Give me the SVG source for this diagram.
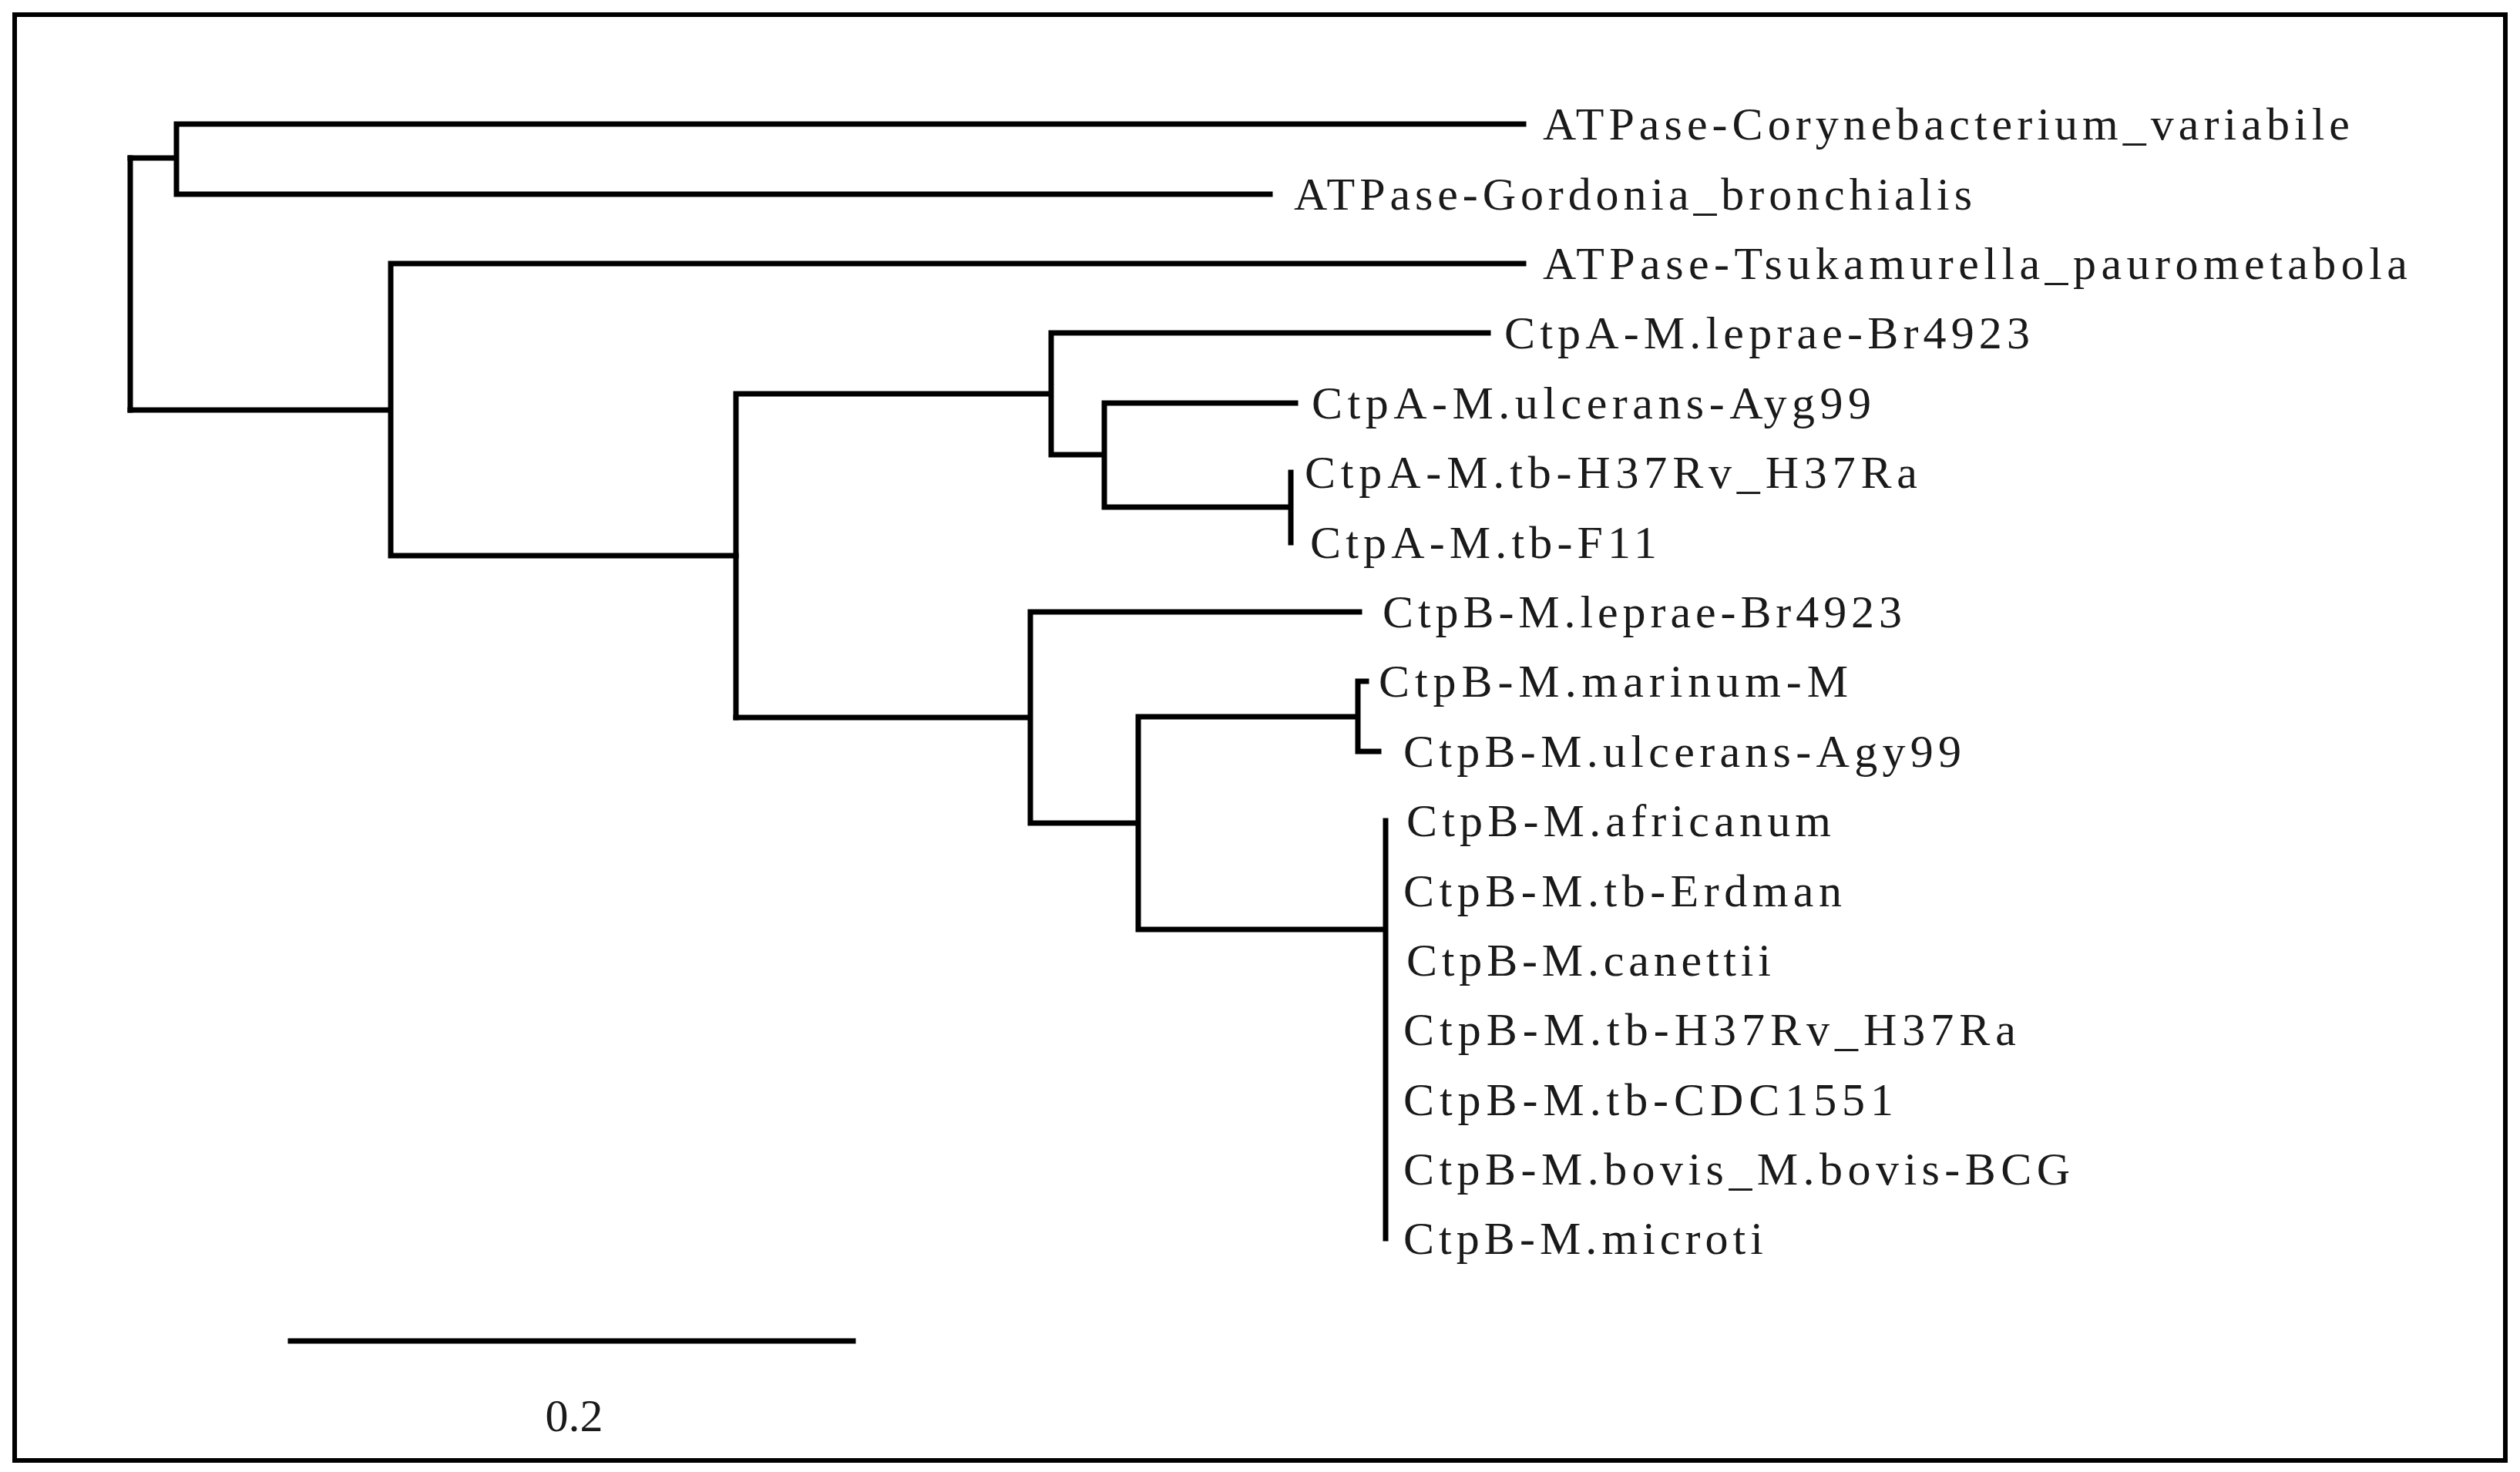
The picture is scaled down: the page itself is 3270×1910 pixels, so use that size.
<svg xmlns="http://www.w3.org/2000/svg" width="3270" height="1910" viewBox="0 0 3270 1910">
<style>
.e{stroke:#000;stroke-width:7;fill:none;stroke-linecap:square}
text{font-family:"Liberation Serif","DejaVu Serif",serif;font-size:60px;fill:#1a1a1a}
</style>
<rect x="0" y="0" width="3270" height="1910" fill="#fff"/>
<rect x="19" y="19" width="3232" height="1876" fill="none" stroke="#000" stroke-width="6"/>
<g id="connectors">
<path class="e" d="M169,205V532"/>
<path class="e" d="M169,205H229M229,161V252M229,161H1977M229,252H1648"/>
<path class="e" d="M169,532H507M507,342V721M507,342H1977M507,721H955"/>
<path class="e" d="M955,511V931M955,511H1364M1364,432V590M1364,432H1931M1364,590H1433M1433,523V658M1433,523H1681M1433,658H1675M1675,613V704"/>
<path class="e" d="M955,931H1337M1337,794V1068M1337,794H1764M1337,1068H1477M1477,930V1206M1477,930H1762M1762,884V975M1762,884H1773M1762,975H1789M1477,1206H1798M1798,1065V1607"/>
<path class="e" d="M377,1740H1107"/>
</g>
<g id="n1"><text x="2002" y="181" textLength="1047">ATPase-Corynebacterium_variabile</text></g>
<g id="n2"><text x="1679" y="272" textLength="880">ATPase-Gordonia_bronchialis</text></g>
<g id="n3"><text x="2002" y="362" textLength="1122">ATPase-Tsukamurella_paurometabola</text></g>
<g id="n4"><text x="1952" y="452" textLength="682">CtpA-M.leprae-Br4923</text></g>
<g id="n5"><text x="1702" y="543" textLength="726">CtpA-M.ulcerans-Ayg99</text></g>
<g id="n6"><text x="1693" y="633" textLength="795">CtpA-M.tb-H37Rv_H37Ra</text></g>
<g id="n7"><text x="1700" y="724" textLength="450">CtpA-M.tb-F11</text></g>
<g id="n8"><text x="1794" y="814" textLength="674">CtpB-M.leprae-Br4923</text></g>
<g id="n9"><text x="1789" y="904" textLength="609">CtpB-M.marinum-M</text></g>
<g id="n10"><text x="1821" y="995" textLength="724">CtpB-M.ulcerans-Agy99</text></g>
<g id="n11"><text x="1825" y="1085" textLength="551">CtpB-M.africanum</text></g>
<g id="n12"><text x="1821" y="1176" textLength="569">CtpB-M.tb-Erdman</text></g>
<g id="n13"><text x="1825" y="1266" textLength="473">CtpB-M.canettii</text></g>
<g id="n14"><text x="1821" y="1356" textLength="795">CtpB-M.tb-H37Rv_H37Ra</text></g>
<g id="n15"><text x="1821" y="1447" textLength="636">CtpB-M.tb-CDC1551</text></g>
<g id="n16"><text x="1821" y="1537" textLength="865">CtpB-M.bovis_M.bovis-BCG</text></g>
<g id="n17"><text x="1821" y="1627" textLength="467">CtpB-M.microti</text></g>
<g id="scale"><text x="745" y="1857" text-anchor="middle">0.2</text></g>
</svg>
